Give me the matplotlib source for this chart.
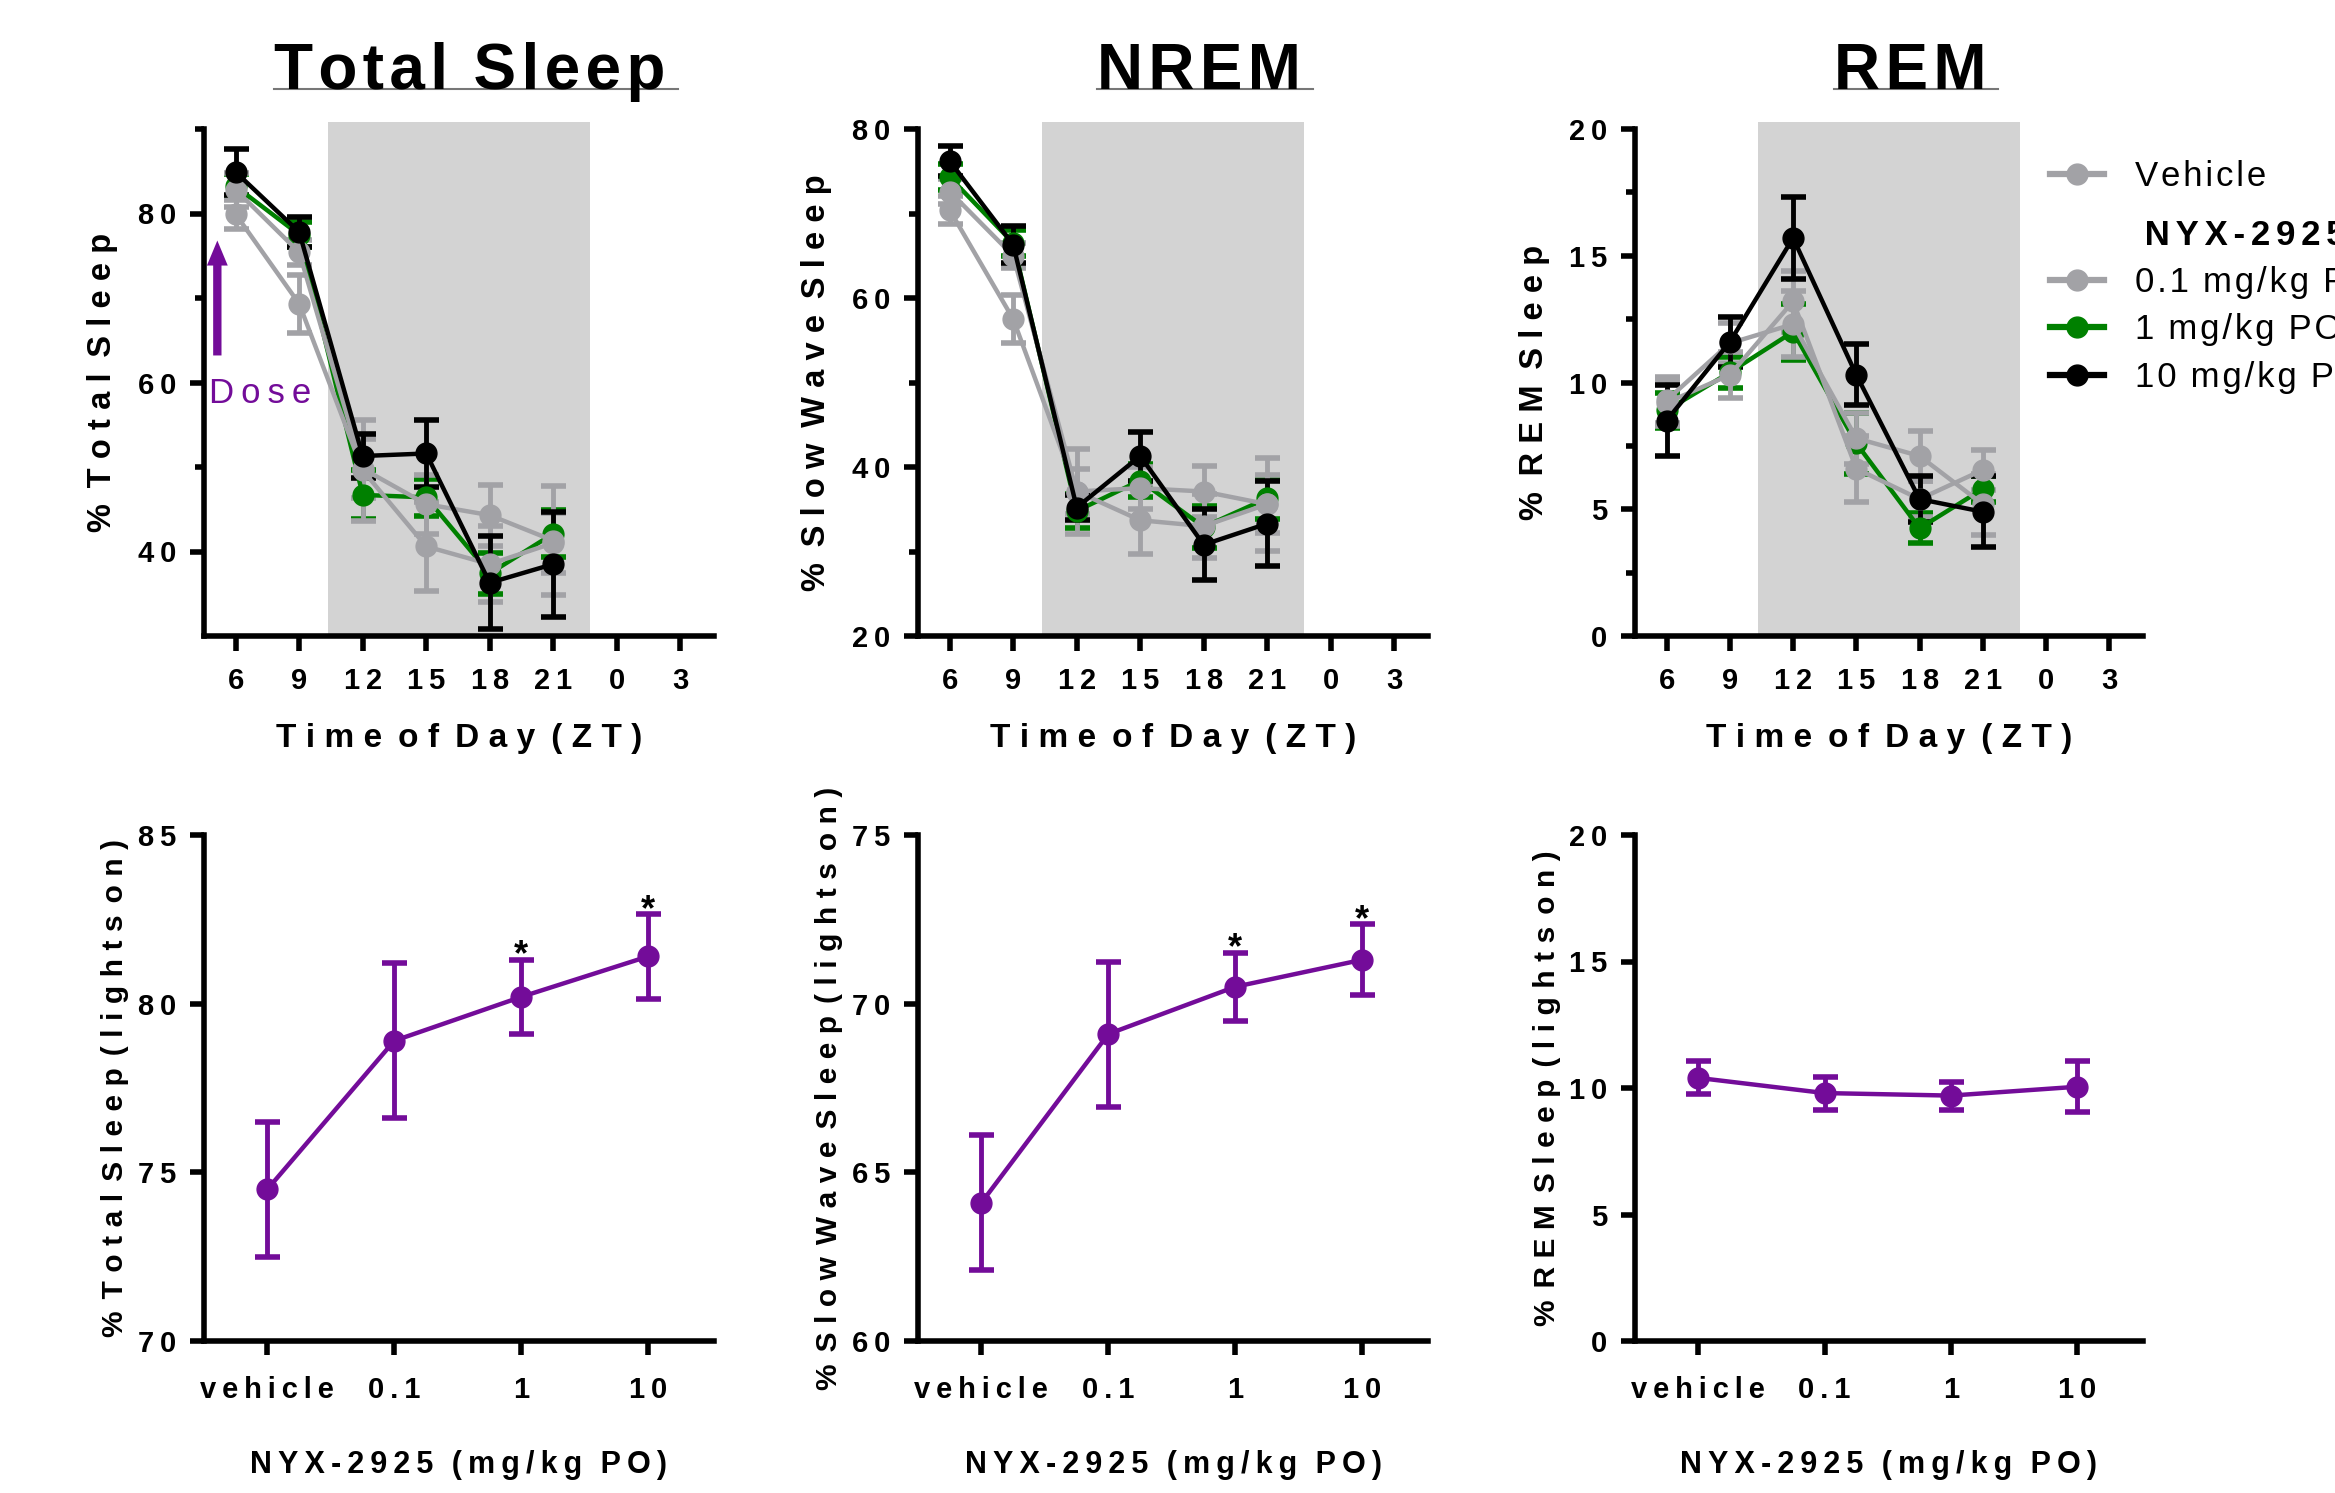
import numpy as np
import matplotlib.pyplot as plt
from matplotlib.lines import Line2D

plt.rcParams['font.family'] = ['Liberation Sans', 'DejaVu Sans']

# ---- data ----
zt = [6, 9, 12, 15, 18, 21]
zt_labels = ['6', '9', '12', '15', '18', '21', '0', '3']
groups = ['Vehicle', '0.1 mg/kg PO', '1 mg/kg PO', '10 mg/kg PO']

ts_veh = [79.9, 69.3, 49.6, 40.6, 38.5, 41.0]
ts_veh_err = [1.7, 3.4, 6.0, 5.3, 4.5, 3.5]
ts_01 = [82.8, 75.4, 49.8, 45.6, 44.3, 41.3]
ts_01_err = [2.0, 1.5, 3.5, 3.5, 3.6, 6.5]
ts_1 = [83.2, 77.5, 46.7, 46.4, 37.4, 42.1]
ts_1_err = [1.5, 1.5, 2.9, 2.2, 2.4, 2.8]
ts_10 = [84.9, 77.8, 51.3, 51.6, 36.3, 38.5]
ts_10_err = [2.7, 1.8, 2.6, 4.0, 5.5, 6.2]

nrem_veh = [70.4, 57.5, 37.1, 33.7, 33.0, 35.6]
nrem_veh_err = [1.7, 2.8, 5.0, 4.0, 3.8, 3.4]
nrem_01 = [72.6, 65.0, 37.1, 37.5, 37.1, 35.6]
nrem_01_err = [1.5, 1.5, 2.7, 2.5, 3.0, 5.5]
nrem_1 = [74.3, 66.5, 34.8, 38.4, 32.9, 36.3]
nrem_1_err = [1.5, 1.5, 2.0, 2.0, 2.5, 2.5]
nrem_10 = [76.2, 66.3, 35.2, 41.3, 30.8, 33.3]
nrem_10_err = [1.8, 2.2, 1.5, 2.9, 4.2, 5.0]

rem_veh = [9.3, 11.55, 12.3, 7.8, 7.1, 5.2]
rem_veh_err = [0.9, 0.8, 1.3, 1.0, 1.0, 1.2]
rem_01 = [9.2, 10.3, 13.2, 6.6, 5.4, 6.55]
rem_01_err = [0.9, 0.9, 1.2, 1.3, 0.7, 0.8]
rem_1 = [8.9, 10.4, 12.0, 7.6, 4.25, 5.8]
rem_1_err = [0.7, 0.6, 1.1, 1.2, 0.6, 0.5]
rem_10 = [8.5, 11.6, 15.7, 10.3, 5.4, 4.9]
rem_10_err = [1.4, 1.0, 1.6, 1.2, 0.9, 1.4]

doses = ['vehicle', '0.1', '1', '10']
ts_on = [74.5, 78.9, 80.2, 81.4]
ts_on_err = [2.0, 2.3, 1.1, 1.25]
nrem_on = [64.1, 69.1, 70.5, 71.3]
nrem_on_err = [2.0, 2.15, 1.0, 1.05]
rem_on = [10.4, 9.8, 9.7, 10.05]
rem_on_err = [0.65, 0.65, 0.55, 1.0]
ts_sig = [False, False, True, True]
nrem_sig = [False, False, True, True]

GRAY = '#A2A2A6'
GREEN = '#008000'
PURPLE = '#730C99'
colors = [GRAY, GRAY, GREEN, 'black']
W, H = 2335, 1493
THIN = '\u2009'
HAIR = '\u200a'
WIDE = THIN + HAIR


def sp(s, gap=THIN, word=THIN * 2):
    # letter-spaced text, like the original
    return word.join(gap.join(w) for w in s.split(' '))


def box(x0, x1, y0, y1):
    return [x0 / W, 1 - y1 / H, (x1 - x0) / W, (y1 - y0) / H]


def base_style(ax):
    for s in ['top', 'right']:
        ax.spines[s].set_visible(False)
    for s in ['left', 'bottom']:
        ax.spines[s].set_linewidth(4)
    ax.tick_params(which='major', width=4, length=10)
    ax.tick_params(which='minor', width=4, length=6.5)
    ax.tick_params(axis='y', pad=10)


def top_panel(ax, series, ylim, major, minor, ylabel):
    base_style(ax)
    ax.axvspan(10.35, 22.75, ymin=0, ymax=1.014, color='#D3D3D3', lw=0,
               zorder=0, clip_on=False)
    order = [2, 0, 1, 3]
    for i in order:
        y, e = series[i]
        ax.errorbar(zt, y, yerr=e, color=colors[i], lw=3.2, elinewidth=3.5,
                    marker='o', ms=15, capsize=9, capthick=4)
    ax.set_xlim(4.5, 28.6)
    ax.set_ylim(*ylim)
    ax.set_xticks(np.arange(6, 30, 3), labels=[sp(s) for s in zt_labels],
                  fontsize=21, fontweight='bold')
    ax.tick_params(axis='x', pad=11, length=11)
    ax.set_yticks(major, labels=[sp(f'{v:g}') for v in major],
                  fontsize=21, fontweight='bold')
    ax.set_yticks(minor, minor=True)
    ax.set_xlabel(sp('Time of Day (ZT)', WIDE, THIN * 2 + HAIR), fontsize=24,
                  fontweight='bold', va='baseline')
    ax.xaxis.set_label_coords(0.5, -0.218)
    ax.set_ylabel(sp(ylabel, WIDE, THIN * 2 + HAIR), fontsize=23.5,
                  fontweight='bold', va='baseline')
    ax.yaxis.set_label_coords(-0.182, 0.5)


def bottom_panel(ax, y, e, sig, ylim, major, ylabel):
    base_style(ax)
    ax.errorbar(range(len(doses)), y, yerr=e, color=PURPLE, lw=3.2, elinewidth=3.5,
                marker='o', ms=15, capsize=9, capthick=4)
    if sig is not None:
        for i, s in enumerate(sig):
            if s:
                ax.annotate('*', xy=(i, y[i] + e[i]), xytext=(0, -4),
                            textcoords='offset points', ha='center', va='baseline',
                            fontsize=26, fontweight='bold')
    ax.set_xlim(-0.5, 3.52)
    ax.set_ylim(*ylim)
    ax.set_xticks(range(len(doses)), labels=[sp(d) for d in doses],
                  fontsize=21, fontweight='bold')
    ax.tick_params(axis='x', pad=15)
    ax.set_yticks(major, labels=[sp(f'{v:g}') for v in major],
                  fontsize=21, fontweight='bold')
    ax.set_xlabel(sp('NYX-2925 (mg/kg PO)', THIN, THIN * 3), fontsize=22,
                  fontweight='bold', va='baseline')
    ax.xaxis.set_label_coords(0.5, -0.26)
    ax.set_ylabel(sp(ylabel, WIDE, THIN * 2), fontsize=21.5, fontweight='bold', va='baseline')
    ax.yaxis.set_label_coords(-0.158, 0.5)


fig = plt.figure(figsize=(23.35, 14.93), dpi=100)

cols = [(204, 714), (918, 1428), (1635, 2143)]
ax1 = fig.add_axes(box(*cols[0], 129, 636))
ax2 = fig.add_axes(box(*cols[1], 129, 636))
ax3 = fig.add_axes(box(*cols[2], 129, 636))
ax4 = fig.add_axes(box(*cols[0], 835, 1341))
ax5 = fig.add_axes(box(*cols[1], 835, 1341))
ax6 = fig.add_axes(box(*cols[2], 835, 1341))

top_panel(ax1, [(ts_veh, ts_veh_err), (ts_01, ts_01_err), (ts_1, ts_1_err), (ts_10, ts_10_err)],
          (30, 90), [40, 60, 80], [50, 70, 90], '% Total Sleep')
top_panel(ax2, [(nrem_veh, nrem_veh_err), (nrem_01, nrem_01_err), (nrem_1, nrem_1_err),
                (nrem_10, nrem_10_err)],
          (20, 80), [20, 40, 60, 80], [30, 50, 70], '% Slow Wave Sleep')
top_panel(ax3, [(rem_veh, rem_veh_err), (rem_01, rem_01_err), (rem_1, rem_1_err), (rem_10, rem_10_err)],
          (0, 20), [0, 5, 10, 15, 20], [2.5, 7.5, 12.5, 17.5], '% REM Sleep')

# dose arrow
ax1.annotate('', xy=(5.13, 76.8), xytext=(5.13, 63.2),
             arrowprops=dict(arrowstyle='simple,head_length=1.8,head_width=1.5,tail_width=0.6',
                             mutation_scale=10, fc=PURPLE, ec='none', lw=0,
                             shrinkA=0, shrinkB=0))
ax1.text(4.75, 57.6, sp('Dose'), color=PURPLE, fontsize=25, va='baseline')

bottom_panel(ax4, ts_on, ts_on_err, ts_sig, (70, 85), [70, 75, 80, 85], '% Total Sleep (lights on)')
bottom_panel(ax5, nrem_on, nrem_on_err, nrem_sig, (60, 75), [60, 65, 70, 75],
             '% Slow Wave Sleep (lights on)')
bottom_panel(ax6, rem_on, rem_on_err, None, (0, 20), [0, 5, 10, 15, 20], '% REM Sleep (lights on)')

# legend: vehicle on its own, then the NYX-2925 group under a bold header
leg_kw = dict(loc='upper left', frameon=False, fontsize=25, handlelength=1.55,
              handletextpad=0.9, borderpad=0, borderaxespad=0)
veh_handle = [Line2D([], [], color=GRAY, lw=4.5, marker='o', ms=15)]
fig.legend(veh_handle, [sp(groups[0], HAIR)], bbox_to_anchor=(2050 / W, 1 - 160 / H), **leg_kw)

drug_handles = [Line2D([], [], color='none'),
                Line2D([], [], color=GRAY, lw=4.5, marker='o', ms=15),
                Line2D([], [], color=GREEN, lw=4.5, marker='o', ms=15),
                Line2D([], [], color='black', lw=4.5, marker='o', ms=15)]
drug_labels = [' ' + sp('NYX-2925', HAIR * 2)] + [sp(g, HAIR) for g in groups[1:]]
leg = fig.legend(drug_handles, drug_labels, bbox_to_anchor=(2050 / W, 1 - 219 / H),
                 labelspacing=0.41, **leg_kw)
leg.get_texts()[0].set_fontweight('bold')

# panel titles with underline
titles = [('Total Sleep', 470), ('NREM', 1199), ('REM', 1910)]
title_texts = []
for name, cx in titles:
    t = fig.text(cx / W, 1 - 88.6 / H, sp(name, HAIR, THIN * 2), ha='center', va='baseline',
                 fontsize=46, fontweight='bold')
    title_texts.append(t)

fig.canvas.draw()
r = fig.canvas.get_renderer()
for t in title_texts:
    bb = t.get_window_extent(r)
    yy = 1 - 89 / H
    fig.add_artist(Line2D([bb.x0 / W, (bb.x1 + 12) / W], [yy, yy], transform=fig.transFigure,
                          color='#777777', lw=1.5))

fig.savefig('out.png', dpi=100)
